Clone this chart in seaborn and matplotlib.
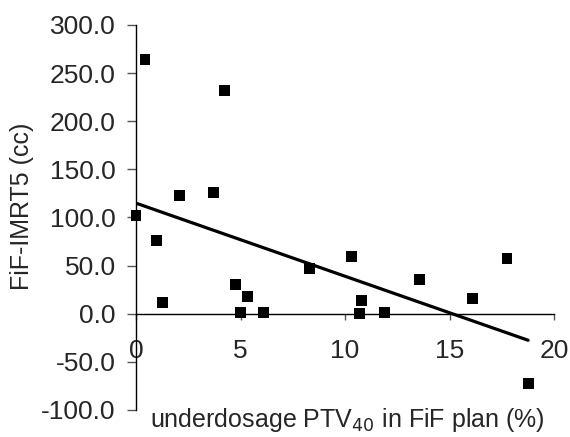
import numpy as np
import pandas as pd
import matplotlib
matplotlib.use("Agg")
import matplotlib.pyplot as plt
import seaborn as sns

# underdosage PTV40 (%) vs FiF-IMRT5 (cc)
underdosage = [0.43, 4.23, 2.07, 3.70, 0.0, 0.99, 1.26, 4.78, 5.34, 4.98,
               6.08, 8.29, 10.33, 10.78, 10.70, 11.91, 13.57, 16.08, 17.75, 18.76]
fif_imrt5 = [264.0, 232.0, 123.0, 126.0, 102.0, 76.0, 12.0, 30.0, 17.5, 1.5,
             1.5, 47.0, 59.0, 14.0, 0.0, 1.5, 35.5, 15.5, 57.5, -72.0]
yticks = np.arange(-100, 301, 50)

df = pd.DataFrame({"x": underdosage, "y": fif_imrt5})

sns.set_style("white")
plt.rcParams["font.family"] = ["Liberation Sans", "DejaVu Sans"]

fig = plt.figure(figsize=(5.7, 4.37), dpi=100)
ax = fig.add_axes([0.2386, 0.0618, 0.7334, 0.881])

sns.regplot(data=df, x="x", y="y", ax=ax, ci=None,
            marker="s", color="black",
            scatter_kws={"s": 62, "edgecolor": "none", "alpha": 1,
                         "zorder": 3, "clip_on": False},
            line_kws={"lw": 2.3})

ax.set_xlim(0, 20)
ax.set_ylim(-100, 300)
ax.set_xticks([0, 5, 10, 15, 20])
ax.set_yticks(yticks)
ax.set_yticklabels([f"{v:.1f}" for v in yticks])
ax.set_xlabel("")
ax.set_ylabel("")

ax.spines["top"].set_visible(False)
ax.spines["right"].set_visible(False)
ax.spines["bottom"].set_position(("data", 0))
for s in ["left", "bottom"]:
    ax.spines[s].set_color("black")
    ax.spines[s].set_linewidth(1.0)

ax.tick_params(axis="y", direction="out", length=6.5, width=1, color="#555555",
               labelsize=19, pad=8, left=True)
ax.tick_params(axis="x", direction="out", length=4.5, width=1, color="#555555",
               labelsize=19, pad=14, bottom=True)

fig.text(0.039, 0.527, "FiF-IMRT5 (cc)", rotation=90, fontsize=18,
         ha="center", va="center")
fig.text(0.609, 0.022, "underdosage PTV$_{40}$ in FiF plan (%)", fontsize=18,
         ha="center", va="baseline")

fig.savefig("out.png", dpi=100)
